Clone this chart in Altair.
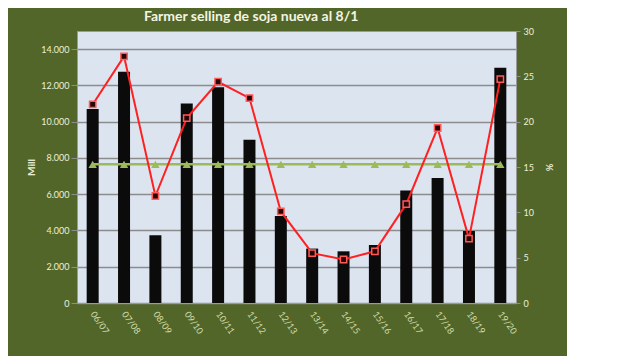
import altair as alt
import pandas as pd

seasons = ["06/07", "07/08", "08/09", "09/10", "10/11", "11/12", "12/13",
           "13/14", "14/15", "15/16", "16/17", "17/18", "18/19", "19/20"]
mill = [10700, 12750, 3730, 11000, 11900, 9000, 4800,
        3000, 2850, 3200, 6200, 6900, 3970, 12970]
pct = [21.9, 27.2, 11.8, 20.4, 24.4, 22.6, 10.1,
       5.5, 4.8, 5.7, 10.9, 19.3, 7.1, 24.7]
avg = [15.3, 15.3, 15.3, 15.3, 15.3, 15.3, 15.3,
       15.3, 15.3, 15.3, 15.3, 15.3, 15.3, 15.3]
left_ticks = [0, 2000, 4000, 6000, 8000, 10000, 12000, 14000]
right_ticks = [0, 5, 10, 15, 20, 25, 30]

df = pd.DataFrame({"season": seasons, "mill": mill, "pct": pct, "avg": avg})

FONT = "Lato"
LABEL_Y = "#ecefd6"
LABEL_X = "#d3deaa"
GRAY = "#8c8c8c"

x_enc = alt.X(
    "season:N", sort=seasons, title=None,
    scale=alt.Scale(paddingInner=0, paddingOuter=0),
    axis=alt.Axis(labelAngle=55, labelAlign="left", labelBaseline="middle",
                  labelPadding=9, labelColor=LABEL_X, labelFontSize=9,
                  labelFont=FONT, ticks=False, domainColor="#9a9a9a",
                  domainWidth=1),
)

bars = alt.Chart(df).mark_bar(size=12, color="#0b0b0b").encode(
    x=x_enc,
    y=alt.Y("mill:Q",
            scale=alt.Scale(domain=[0, 15000], nice=False),
            axis=alt.Axis(title="Mill", values=left_ticks,
                          labelExpr="replace(format(datum.value, ','), ',', '.')",
                          grid=True, gridColor=GRAY, gridWidth=1.5,
                          labelColor=LABEL_Y, labelFontSize=9, labelFont=FONT,
                          labelPadding=2, tickSize=6, tickColor=GRAY,
                          domainColor="#9a9a9a", titleColor=LABEL_Y,
                          titleFont=FONT, titleFontSize=10, titleFontWeight="bold",
                          titlePadding=4)),
)

green = alt.Chart(df).mark_line(
    color="#9bbb59", strokeWidth=2.5,
    point=alt.OverlayMarkDef(shape="triangle-up", size=70, fill="#9bbb59",
                             filled=True, opacity=1),
).encode(
    x=x_enc,
    y=alt.Y("avg:Q", scale=alt.Scale(domain=[0, 30], nice=False), axis=None),
)

red = alt.Chart(df).mark_line(
    color="#ff2020", strokeWidth=2,
    point=alt.OverlayMarkDef(shape="square", size=40, fill="#2a0505",
                             stroke="#ff5a5a", strokeWidth=1.5, filled=True,
                             opacity=1),
).encode(
    x=x_enc,
    y=alt.Y("pct:Q",
            scale=alt.Scale(domain=[0, 30], nice=False),
            axis=alt.Axis(title="%", orient="right", values=right_ticks,
                          grid=False, labelColor=LABEL_Y, labelFontSize=9,
                          labelFont=FONT, labelPadding=3, tickSize=4,
                          tickColor=GRAY, domainColor="#9a9a9a",
                          titleColor=LABEL_Y, titleFont=FONT, titleFontSize=9,
                          titleFontWeight="bold", titlePadding=10)),
)

chart = alt.layer(bars, green, red).resolve_scale(y="independent").properties(
    width=439, height=272,
    title=alt.TitleParams("Farmer selling de soja nueva al 8/1", font=FONT,
                          fontSize=14, fontWeight="bold", color="#f4f4e2",
                          anchor="start", frame="group", dx=67, offset=3),
    background="#536629",
    padding={"left": 69, "top": 23, "right": 51, "bottom": 53},
    autosize=alt.AutoSizeParams(type="none"),
).configure_view(fill="#dce4f0", stroke="#9a9a9a", strokeWidth=1)

chart.save("out.html", embed_options={"renderer": "svg", "actions": False})
